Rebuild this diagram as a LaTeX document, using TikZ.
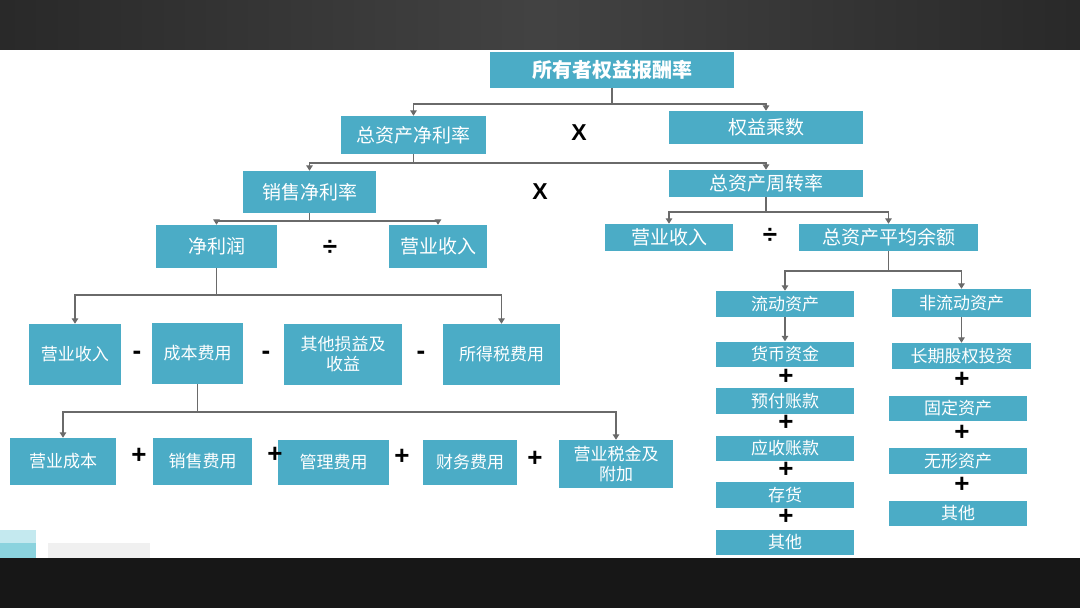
\documentclass[tikz,border=0pt]{standalone}
\usepackage{fontspec}
\setmainfont{Noto Sans CJK SC}
\newfontfamily\opfont{Liberation Sans}
\usetikzlibrary{arrows.meta}
\definecolor{boxblue}{HTML}{4BACC6}
\definecolor{linegray}{HTML}{6A6A6A}
\definecolor{tealA}{HTML}{C4E9EF}
\definecolor{tealB}{HTML}{8BD3DE}

\begin{document}
\begin{tikzpicture}[x=1pt, y=-1pt,
    box/.style={rectangle, fill=boxblue, text=white, inner sep=0pt, align=center, font=\fontsize{17}{20}\selectfont},
    big/.style={box, font=\fontsize{19}{22}\selectfont},
    link/.style={draw=linegray, line width=1.5pt, -{Triangle[width=6.5pt,length=5.5pt]}},
    op/.style={font=\opfont\bfseries\fontsize{26}{26}\selectfont, text=black}]
    \useasboundingbox (0,0) rectangle (1080,608);
    % 上下深色边
    \fill[left color=black!84, right color=black!84, middle color=black!74] (0,0) rectangle (1080,49);
    \fill[black!91] (0,558) rectangle (1080,608);
    \fill[tealA] (0,530) rectangle (36,543);
    \fill[tealB] (0,543) rectangle (36,558);
    \fill[black!6] (48,543) rectangle (150,558);

    % 顶层
    \node[box, font=\bfseries\fontsize{20}{22}\selectfont, minimum width=244pt, minimum height=36pt] (top) at (612,70) {所有者权益报酬率};
    \node[big, minimum width=145pt, minimum height=38pt] (zcjl) at (413.5,135) {总资产净利率};
    \node[big, minimum width=194pt, minimum height=33pt] (qycs) at (766,127.5) {权益乘数};
    \node[op, font=\opfont\bfseries\fontsize{23}{23}\selectfont] (x1) at (579,133) {X};
    \draw[link] (top.south) -- ++(0,16) -| (zcjl.north);
    \draw[link] (top.south) -- ++(0,16) -| (qycs.north);

    % 第三层
    \node[big, minimum width=133pt, minimum height=42pt] (xsjl) at (309.5,192) {销售净利率};
    \node[big, minimum width=194pt, minimum height=27pt] (zczz) at (766,183.5) {总资产周转率};
    \node[op, font=\opfont\bfseries\fontsize{23}{23}\selectfont] (x2) at (540,192) {X};
    \draw[link] (zcjl.south) -- ++(0,9) -| (xsjl.north);
    \draw[link] (zcjl.south) -- ++(0,9) -| (zczz.north);

    % 销售净利率 分解
    \node[big, minimum width=121pt, minimum height=43pt] (jlr) at (216.5,246.5) {净利润};
    \node[big, minimum width=98pt, minimum height=43pt] (yysr) at (438,246.5) {营业收入};
    \node[op] (d1) at (330,248) {÷};
    \draw[link] (xsjl.south) -- ++(0,8) -| (jlr.north);
    \draw[link] (xsjl.south) -- ++(0,8) -| (yysr.north);

    % 总资产周转率 分解
    \node[big, minimum width=128pt, minimum height=27pt] (ysr2) at (669,237.5) {营业收入};
    \node[big, minimum width=179pt, minimum height=27pt] (zcpj) at (888.5,237.5) {总资产平均余额};
    \node[op] (d2) at (770,236) {÷};
    \draw[link] (zczz.south) -- ++(0,15) -| (ysr2.north);
    \draw[link] (zczz.south) -- ++(0,15) -| (zcpj.north);

    % 净利润 分解
    \node[box, minimum width=92pt, minimum height=61pt] (ysr3) at (75,354.5) {营业收入};
    \node[box, minimum width=91pt, minimum height=61pt] (cbfy) at (197.5,353.5) {成本费用};
    \node[box, minimum width=118pt, minimum height=61pt] (qtsy) at (343,354.5) {其他损益及\\收益};
    \node[box, minimum width=117pt, minimum height=61pt] (sdsf) at (501.5,354.5) {所得税费用};
    \node[op] (m1) at (137,355) {-};
    \node[op] (m2) at (266,355) {-};
    \node[op] (m3) at (421,355) {-};
    \draw[link] (jlr.south) -- ++(0,27) -| (ysr3.north);
    \draw[link] (jlr.south) -- ++(0,27) -| (sdsf.north);

    % 成本费用 分解
    \node[box, minimum width=106pt, minimum height=47pt] (yycb) at (63,461.5) {营业成本};
    \node[box, minimum width=99pt, minimum height=47pt] (xsfy) at (202.5,461.5) {销售费用};
    \node[box, minimum width=111pt, minimum height=45pt] (glfy) at (333.5,462.5) {管理费用};
    \node[box, minimum width=94pt, minimum height=45pt] (cwfy) at (470,462.5) {财务费用};
    \node[box, minimum width=114pt, minimum height=48pt] (yysj) at (616,464) {营业税金及\\附加};
    \node[op] (p1) at (139,456) {+};
    \node[op] (p2) at (275,455) {+};
    \node[op] (p3) at (402,457) {+};
    \node[op] (p4) at (535,459) {+};
    \draw[link] (cbfy.south) -- ++(0,28) -| (yycb.north);
    \draw[link] (cbfy.south) -- ++(0,28) -| (yysj.north);

    % 总资产平均余额 分解
    \node[box, minimum width=138pt, minimum height=26pt] (ldzc) at (785,304) {流动资产};
    \node[box, minimum width=139pt, minimum height=28pt] (fldzc) at (961.5,303) {非流动资产};
    \draw[link] (zcpj.south) -- ++(0,20) -| (ldzc.north);
    \draw[link] (zcpj.south) -- ++(0,20) -| (fldzc.north);

    % 流动资产
    \node[box, minimum width=138pt, minimum height=25pt] (hbzj) at (785,354) {货币资金};
    \node[box, minimum width=138pt, minimum height=26pt] (yfzk) at (785,401) {预付账款};
    \node[box, minimum width=138pt, minimum height=25pt] (yszk) at (785,448.5) {应收账款};
    \node[box, minimum width=138pt, minimum height=26pt] (ch) at (785,495) {存货};
    \node[box, minimum width=138pt, minimum height=25pt] (qt1) at (785,542.5) {其他};
    \node[op] (p5) at (786,377) {+};
    \node[op] (p6) at (786,423) {+};
    \node[op] (p7) at (786,470) {+};
    \node[op] (p8) at (786,517) {+};
    \draw[link] (ldzc) -- (hbzj);

    % 非流动资产
    \node[box, minimum width=139pt, minimum height=26pt] (cqgq) at (961.5,356) {长期股权投资};
    \node[box, minimum width=138pt, minimum height=25pt] (gdzc) at (958,408.5) {固定资产};
    \node[box, minimum width=138pt, minimum height=26pt] (wxzc) at (958,461) {无形资产};
    \node[box, minimum width=138pt, minimum height=25pt] (qt2) at (958,513.5) {其他};
    \node[op] (p9) at (962,380) {+};
    \node[op] (p10) at (962,433) {+};
    \node[op] (p11) at (962,485) {+};
    \draw[link] (fldzc.south -| cqgq) -- (cqgq);
\end{tikzpicture}
\end{document}
